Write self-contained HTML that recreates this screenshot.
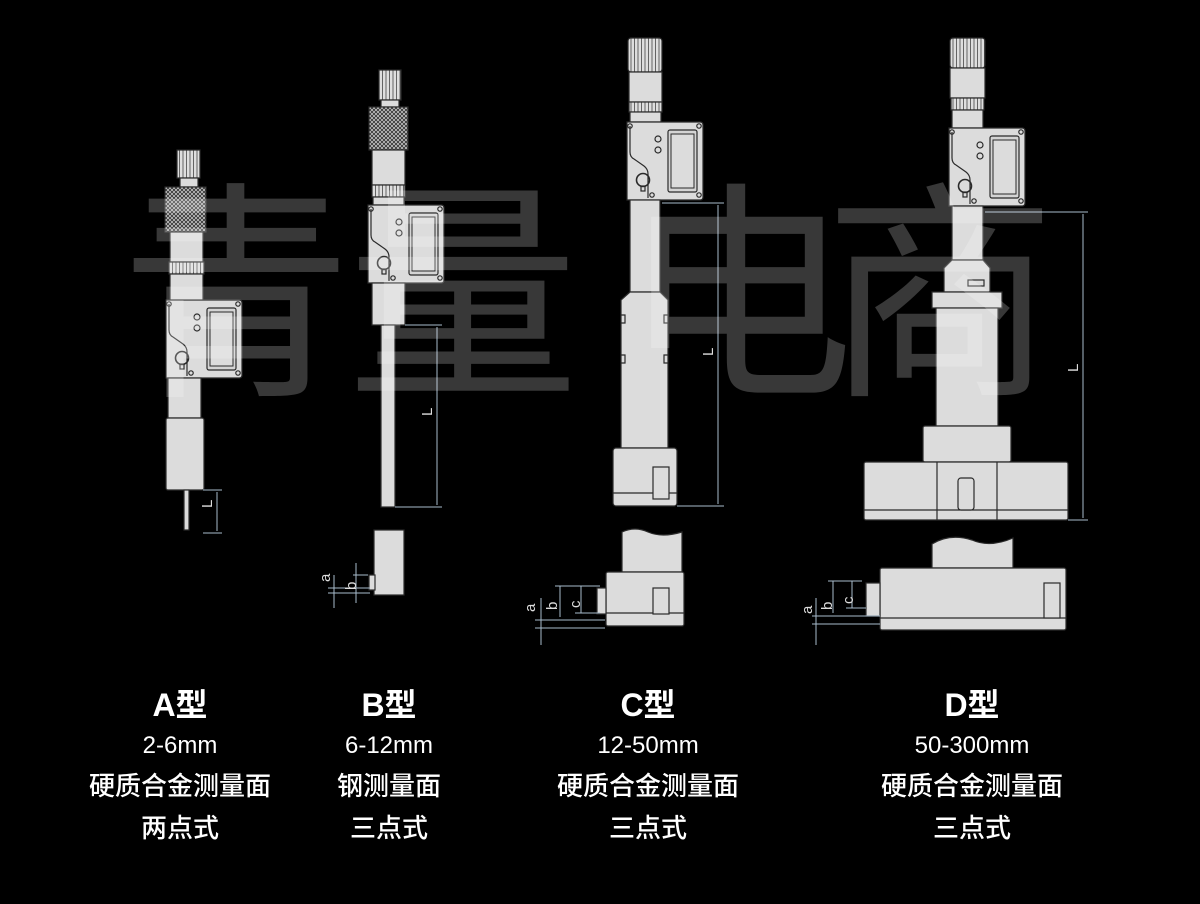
<!DOCTYPE html>
<html><head><meta charset="utf-8"><style>
html,body{margin:0;padding:0;background:#000;}
body{width:1200px;height:904px;overflow:hidden;position:relative;font-family:"Liberation Sans","Noto Sans CJK SC",sans-serif;}
.lab{position:absolute;color:#fff;text-align:center;width:300px;}
.t{font-size:32px;font-weight:bold;top:680px;}
.l{font-size:24px;line-height:40px;top:726px;font-weight:500;}
.l span{font-size:26px;}
</style></head><body>
<svg width="1200" height="904" viewBox="0 0 1200 904" xmlns="http://www.w3.org/2000/svg" style="position:absolute;left:0;top:0">
<defs>
<pattern id="kn" width="4" height="4" patternUnits="userSpaceOnUse"><rect width="4" height="4" fill="#c8c8c8"/><path d="M0,0L4,4M4,0L0,4" stroke="#333" stroke-width="0.9"/></pattern>
<pattern id="rd" width="3.5" height="10" patternUnits="userSpaceOnUse"><rect width="3.5" height="10" fill="#dedede"/><path d="M1,0V10" stroke="#444" stroke-width="0.8"/></pattern>
<g id="head">
<path d="M3,0H76Q79,0 79,3V75Q79,78 76,78H3Z" fill="#dcdcdc" stroke="#2a2a2a" stroke-width="1.2"/>
<path d="M6,4V30Q6,35 10,37L20,44Q24,47 24,52V76" fill="none" stroke="#2a2a2a" stroke-width="1.2"/>
<rect x="44" y="8" width="29" height="62" rx="2" fill="#d4d4d4" stroke="#2a2a2a" stroke-width="1.2"/>
<rect x="47" y="12" width="23" height="54" fill="#dcdcdc" stroke="#2a2a2a" stroke-width="1"/>
<circle cx="6" cy="4" r="2.2" fill="none" stroke="#2a2a2a"/><circle cx="75" cy="4" r="2.2" fill="none" stroke="#2a2a2a"/>
<circle cx="28" cy="73" r="2.2" fill="none" stroke="#2a2a2a"/><circle cx="75" cy="73" r="2.2" fill="none" stroke="#2a2a2a"/>
<circle cx="34" cy="17" r="3" fill="none" stroke="#2a2a2a"/><circle cx="34" cy="28" r="3" fill="none" stroke="#2a2a2a"/>
<circle cx="19" cy="58" r="6.5" fill="none" stroke="#2a2a2a" stroke-width="1.6"/><rect x="17" y="64" width="4" height="5" fill="none" stroke="#2a2a2a"/>
</g>
</defs>
<g stroke="#2a2a2a" stroke-width="1.2" fill="#dcdcdc">
<!-- A -->
<rect x="177" y="150" width="23" height="28" fill="url(#rd)"/>
<rect x="180" y="178" width="18" height="9"/>
<rect x="165" y="187" width="41" height="45" fill="url(#kn)"/>
<rect x="170" y="232" width="33" height="30"/>
<rect x="169" y="262" width="35" height="12" fill="url(#rd)"/>
<rect x="170" y="274" width="33" height="28"/>
<use href="#head" x="163" y="300"/>
<rect x="168" y="378" width="33" height="40"/>
<rect x="166" y="418" width="38" height="72" rx="2"/>
<rect x="184" y="490" width="5" height="40"/>
<!-- B -->
<rect x="379" y="70" width="22" height="30" fill="url(#rd)"/>
<rect x="381" y="100" width="18" height="7"/>
<rect x="369" y="107" width="39" height="43" fill="url(#kn)"/>
<rect x="372" y="150" width="33" height="35"/>
<rect x="372" y="185" width="33" height="12" fill="url(#rd)"/>
<rect x="373" y="197" width="31" height="8"/>
<use href="#head" x="365" y="205"/>
<rect x="372" y="283" width="33" height="42"/>
<rect x="381" y="325" width="14" height="182"/>
<rect x="374" y="530" width="30" height="65"/>
<rect x="369" y="575" width="6" height="15"/>
<!-- C -->
<rect x="628" y="38" width="34" height="34" rx="3" fill="url(#rd)"/>
<rect x="629" y="72" width="33" height="30"/>
<rect x="629" y="102" width="33" height="10" fill="url(#rd)"/>
<rect x="630" y="112" width="31" height="10"/>
<use href="#head" x="624" y="122"/>
<rect x="630" y="200" width="30" height="92"/>
<path d="M630,292L621,300V448H668V300L660,292Z"/>
<path d="M621,315h4v8h-4M668,315h-4v8h4M621,355h4v8h-4M668,355h-4v8h4" fill="none"/>
<rect x="613" y="448" width="64" height="58" rx="3"/>
<line x1="613" y1="493" x2="677" y2="493"/>
<rect x="653" y="467" width="16" height="32"/>
<path d="M622,532Q635,526 648,532Q662,538 682,532V572H622Z"/>
<rect x="606" y="572" width="78" height="54" rx="2"/>
<line x1="606" y1="613" x2="684" y2="613"/>
<rect x="597" y="588" width="9" height="26"/>
<rect x="653" y="588" width="16" height="26"/>
<!-- D -->
<rect x="950" y="38" width="35" height="30" rx="3" fill="url(#rd)"/>
<rect x="950" y="68" width="35" height="30"/>
<rect x="951" y="98" width="33" height="12" fill="url(#rd)"/>
<rect x="952" y="110" width="31" height="18"/>
<use href="#head" x="946" y="128"/>
<rect x="952" y="206" width="31" height="54"/>
<path d="M952,260L944,268V292H990V268L983,260Z"/>
<rect x="968" y="280" width="16" height="6"/>
<rect x="932" y="292" width="70" height="16"/>
<rect x="936" y="308" width="62" height="118"/>
<rect x="923" y="426" width="88" height="36" rx="2"/>
<rect x="864" y="462" width="204" height="58" rx="2"/>
<line x1="864" y1="510" x2="1068" y2="510"/>
<path d="M937,462V520M997,462V520" fill="none"/>
<rect x="958" y="478" width="16" height="32" rx="3"/>
<path d="M932,544Q950,533 972,540Q990,548 1013,538V568H932Z"/>
<rect x="880" y="568" width="186" height="62" rx="2"/>
<line x1="880" y1="618" x2="1066" y2="618"/>
<rect x="866" y="583" width="14" height="33"/>
<rect x="1044" y="583" width="16" height="35"/>
</g>
<g stroke="#a8bccd" stroke-width="1" fill="none">
<path d="M203,490H222M203,533H222M217,492V531"/>
<path d="M405,325H442M395,507H442M437,327V505"/>
<path d="M662,203H724M677,506H724M718,205V504"/>
<path d="M985,212H1088M1068,520H1088M1083,214V518"/>
<path d="M328,588H370M328,593H370M334,575V608M356,563V603M353,575H368"/>
<path d="M535,620H605M535,628H605M541,598V645M560,586V617M555,586H600M581,586V613M575,613H600"/>
<path d="M812,616H880M812,624H880M816,598V645M833,581V613M828,581H862M852,581V608M846,608H866"/>
</g>
<g fill="#dcdcdc" font-size="15" font-family="Liberation Sans,sans-serif">
<text transform="translate(212,508) rotate(-90)">L</text>
<text transform="translate(432,416) rotate(-90)">L</text>
<text transform="translate(713,356) rotate(-90)">L</text>
<text transform="translate(1078,372) rotate(-90)">L</text>
<text transform="translate(330,582) rotate(-90)">a</text>
<text transform="translate(356,590) rotate(-90)">b</text>
<text transform="translate(535,612) rotate(-90)">a</text>
<text transform="translate(557,610) rotate(-90)">b</text>
<text transform="translate(580,608) rotate(-90)">c</text>
<text transform="translate(812,614) rotate(-90)">a</text>
<text transform="translate(832,610) rotate(-90)">b</text>
<text transform="translate(853,604) rotate(-90)">c</text>
</g>
<g fill="#ffffff" fill-opacity="0.22" font-size="232" font-family="Noto Sans CJK SC,sans-serif" text-anchor="middle">
<text x="236" y="378">青</text>
<text x="463" y="378">量</text>
<text x="738" y="378">电</text>
<text x="940" y="378">商</text>
</g>
</svg>
<div class="lab t" style="left:30px">A型</div>
<div class="lab l" style="left:30px">2-6mm<br><span>硬质合金测量面</span><br><span>两点式</span></div>
<div class="lab t" style="left:239px">B型</div>
<div class="lab l" style="left:239px">6-12mm<br><span>钢测量面</span><br><span>三点式</span></div>
<div class="lab t" style="left:498px">C型</div>
<div class="lab l" style="left:498px">12-50mm<br><span>硬质合金测量面</span><br><span>三点式</span></div>
<div class="lab t" style="left:822px">D型</div>
<div class="lab l" style="left:822px">50-300mm<br><span>硬质合金测量面</span><br><span>三点式</span></div>
</body></html>
